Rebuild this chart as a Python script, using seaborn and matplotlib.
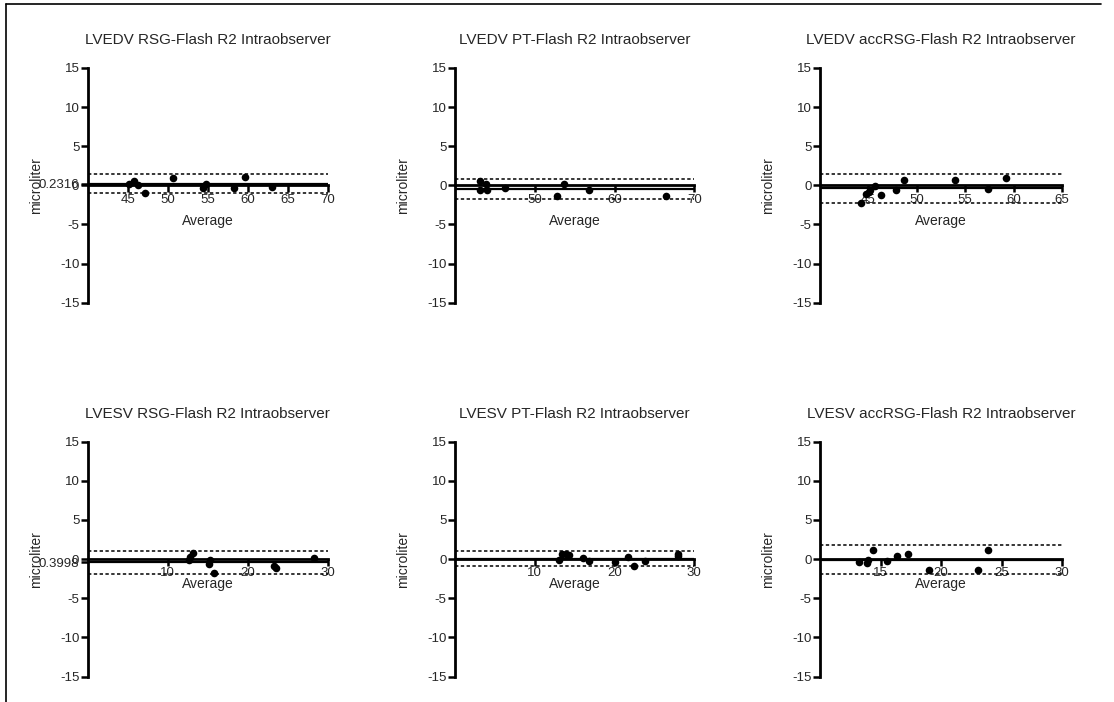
import matplotlib
matplotlib.use("Agg")
import matplotlib.pyplot as plt
import matplotlib.transforms as mtransforms
from matplotlib.lines import Line2D
import pandas as pd
import seaborn as sns

# Bland-Altman data (Average vs difference, microliter)
edv_rsg_avg = [45.1, 45.75, 46.3, 47.1, 50.7, 54.4, 54.8, 58.3, 59.7, 63.0]
edv_rsg_diff = [0.2, 0.6, 0.1, -1.0, 1.0, -0.35, 0.17, -0.35, 1.1, -0.26]
edv_rsg_lines = [0.2316, 1.4, -1.0]  # bias, upper LoA, lower LoA

edv_pt_avg = [43.1, 43.1, 43.9, 44.0, 46.3, 52.8, 53.7, 56.8, 66.5]
edv_pt_diff = [0.5, -0.55, 0.2, -0.55, -0.35, -1.3, 0.17, -0.64, -1.3]
edv_pt_lines = [-0.45, 0.8, -1.75]

edv_acc_avg = [44.2, 44.8, 45.1, 45.2, 45.7, 46.3, 47.8, 48.7, 53.9, 57.4, 59.2]
edv_acc_diff = [-2.2, -1.1, -0.9, -0.55, -0.05, -1.2, -0.55, 0.65, 0.7, -0.43, 1.0]
edv_acc_lines = [-0.35, 1.5, -2.3]

esv_rsg_avg = [12.6, 12.8, 13.1, 15.1, 15.3, 15.8, 23.3, 23.5, 28.3]
esv_rsg_diff = [-0.1, 0.3, 0.8, -0.65, -0.1, -1.8, -0.85, -1.2, 0.1]
esv_rsg_lines = [-0.3998, 1.07, -1.9]

esv_pt_avg = [13.1, 13.4, 13.96, 14.3, 16.0, 16.75, 20.1, 21.75, 22.5, 23.8, 27.9, 28.0]
esv_pt_diff = [-0.13, 0.6, 0.6, 0.5, 0.1, -0.2, -0.35, 0.3, -0.85, -0.2, 0.6, 0.4]
esv_pt_lines = [0.05, 1.0, -0.85]

esv_acc_avg = [13.25, 13.9, 14.0, 14.4, 15.5, 16.4, 17.3, 19.0, 23.05, 23.9]
esv_acc_diff = [-0.35, -0.55, -0.13, 1.1, -0.2, 0.4, 0.7, -1.4, -1.4, 1.1]
esv_acc_lines = [-0.08, 1.75, -1.92]

titles = ["LVEDV RSG-Flash R2 Intraobserver", "LVEDV PT-Flash R2 Intraobserver",
          "LVEDV accRSG-Flash R2 Intraobserver", "LVESV RSG-Flash R2 Intraobserver",
          "LVESV PT-Flash R2 Intraobserver", "LVESV accRSG-Flash R2 Intraobserver"]
xlims = [(40, 70), (40, 70), (40, 65), (0, 30), (0, 30), (10, 30)]
xticks = [[45, 50, 55, 60, 65, 70], [50, 60, 70], [45, 50, 55, 60, 65],
          [10, 20, 30], [10, 20, 30], [15, 20, 25, 30]]
yticks = [-15, -10, -5, 0, 5, 10, 15]
bias_labels = ["0.2316", None, None, "0.3998", None, None]

avgs = [edv_rsg_avg, edv_pt_avg, edv_acc_avg, esv_rsg_avg, esv_pt_avg, esv_acc_avg]
diffs = [edv_rsg_diff, edv_pt_diff, edv_acc_diff, esv_rsg_diff, esv_pt_diff, esv_acc_diff]
lines = [edv_rsg_lines, edv_pt_lines, edv_acc_lines, esv_rsg_lines, esv_pt_lines, esv_acc_lines]

sns.set_style("white")
plt.rcParams["font.family"] = ["Liberation Sans", "DejaVu Sans"]
plt.rcParams["axes.unicode_minus"] = False

W, H = 1114, 702
fig = plt.figure(figsize=(W / 100, H / 100), dpi=100)

cols = [(87.7, 328), (455, 694.3), (820, 1062)]
rows = [(68, 302.7), (441.7, 676.5)]
avg_offset = [-36, -25]

for i in range(6):
    r, c = divmod(i, 3)
    x0, x1 = cols[c]
    t0, t1 = rows[r]
    ax = fig.add_axes([x0 / W, 1 - t1 / H, (x1 - x0) / W, (t1 - t0) / H])
    df = pd.DataFrame({"Average": avgs[i], "Difference": diffs[i]})
    bias, hi, lo = lines[i]
    xmin, xmax = xlims[i]

    ax.hlines(bias, xmin, xmax, color="black", lw=1.6, zorder=2)
    ax.hlines([hi, lo], xmin, xmax, color="black", lw=1.1,
              linestyles=(0, (2.2, 1.6)), zorder=2)
    sns.scatterplot(data=df, x="Average", y="Difference", ax=ax, color="black",
                    s=30, edgecolor="black", linewidth=0, zorder=3)

    ax.set_xlim(xmin, xmax)
    ax.set_ylim(-15, 15)
    ax.spines["top"].set_visible(False)
    ax.spines["right"].set_visible(False)
    ax.spines["bottom"].set_position(("data", 0))
    for s in ["left", "bottom"]:
        ax.spines[s].set_linewidth(2.0)
        ax.spines[s].set_color("black")
    ax.set_xticks(xticks[i])
    ax.set_xticklabels([str(v) for v in xticks[i]])
    yt = list(yticks)
    ytl = [str(v) for v in yticks]
    if bias_labels[i]:
        yt.append(bias)
        ytl.append(bias_labels[i])
    ax.set_yticks(yt)
    ax.set_yticklabels(ytl)
    ax.tick_params(axis="both", direction="out", length=5, width=1.8,
                   color="black", labelsize=9.5, pad=1, left=True, bottom=True)
    ax.set_xlabel("")
    ax.set_ylabel("microliter", fontsize=10, labelpad=10)
    ax.yaxis.set_label_coords(-45 / (x1 - x0), 0.5)
    ax.set_title(titles[i], fontsize=11, pad=17)

    trans = mtransforms.blended_transform_factory(ax.transAxes, ax.transData)
    ax.annotate("Average", xy=(0.5, 0), xycoords=trans, xytext=(0, avg_offset[r] * 0.72),
                textcoords="offset points", ha="center", va="center", fontsize=10)

# outer frame of the original image
fig.add_artist(Line2D([6 / W, 6 / W], [0, 1 - 4 / H], color="black", lw=1.2))
fig.add_artist(Line2D([6 / W, 1101 / W], [1 - 4 / H, 1 - 4 / H], color="black", lw=1.2))

fig.savefig("out.png", dpi=100)
